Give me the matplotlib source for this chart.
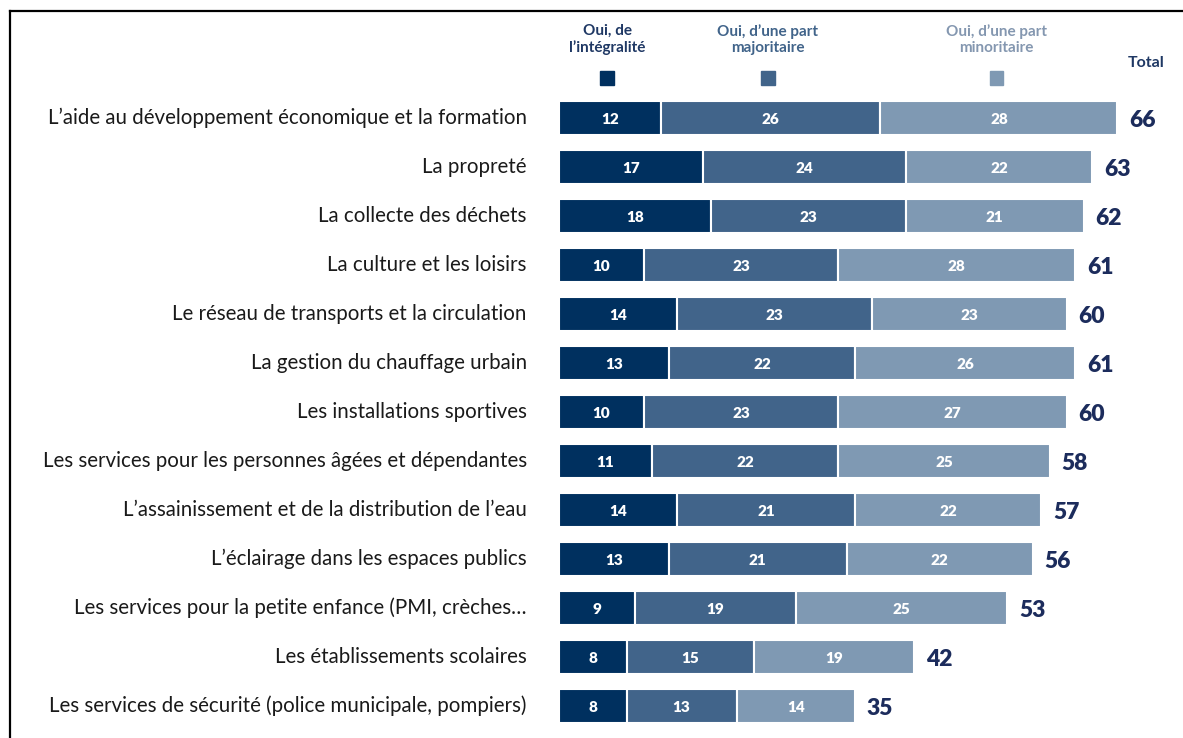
"""Stacked bar chart: délégation des services publics locaux."""
import matplotlib.pyplot as plt
import numpy as np
from matplotlib.lines import Line2D
from matplotlib.patches import Rectangle

plt.rcParams["font.family"] = ["Lato", "DejaVu Sans"]

categories = [
    "L\u2019aide au développement économique et la formation",
    "La propreté",
    "La collecte des déchets",
    "La culture et les loisirs",
    "Le réseau de transports et la circulation",
    "La gestion du chauffage urbain",
    "Les installations sportives",
    "Les services pour les personnes âgées et dépendantes",
    "L\u2019assainissement et de la distribution de l\u2019eau",
    "L\u2019éclairage dans les espaces publics",
    "Les services pour la petite enfance (PMI, crèches\u2026",
    "Les établissements scolaires",
    "Les services de sécurité (police municipale, pompiers)",
]
integralite = [12, 17, 18, 10, 14, 13, 10, 11, 14, 13, 9, 8, 8]
majoritaire = [26, 24, 23, 23, 23, 22, 23, 22, 21, 21, 19, 15, 13]
minoritaire = [28, 22, 21, 28, 23, 26, 27, 25, 22, 22, 25, 19, 14]
totals = [66, 63, 62, 61, 60, 61, 60, 58, 57, 56, 53, 42, 35]

series_labels = ["Oui, de\nl\u2019intégralité",
                 "Oui, d\u2019une part\nmajoritaire",
                 "Oui, d\u2019une part\nminoritaire"]
bar_colors = ["#00305f", "#41648a", "#7f99b3"]
head_colors = ["#1f3864", "#41648a", "#8497b0"]
navy = "#1c2c5c"

W, H = 1183, 738
px_per_unit = 8.46
x0 = 559
fig = plt.figure(figsize=(W / 100, H / 100), dpi=100)
ax = fig.add_axes([x0 / W, 0, 1 - x0 / W, 1])
ax.set_xlim(0, (W - x0) / px_per_unit)
ax.set_ylim((H - 118) / 49, -118 / 49)
ax.axis("off")

y = np.arange(len(categories))
left = np.zeros(len(categories))
for vals, col in zip([integralite, majoritaire, minoritaire], bar_colors):
    vals = np.array(vals)
    ax.barh(y, vals, left=left, height=0.71, color=col,
            edgecolor="white", linewidth=1.5)
    for yi, l, v in zip(y, left, vals):
        ax.text(l + v / 2, yi + 0.03, str(v), ha="center", va="center",
                color="white", fontsize=11, fontweight="heavy")
    left += vals

for yi, t in zip(y, totals):
    ax.text(t + 1.4, yi + 0.05, str(t), ha="left", va="center",
            color=navy, fontsize=16.5, fontweight="heavy")

for yi, cat in zip(y, categories):
    ax.text(-3.8, yi, cat, ha="right", va="center", color="#1a1a1a",
            fontsize=14.8, clip_on=False)

# legend header above the first row's segments
starts = [0, integralite[0], integralite[0] + majoritaire[0]]
widths = [integralite[0], majoritaire[0], minoritaire[0]]
for s, w, lab, bc, hc in zip(starts, widths, series_labels,
                             bar_colors, head_colors):
    cx = s + w / 2 - 0.3
    ax.text(cx, -1.6, lab, ha="center", va="center", color=hc,
            fontsize=11, fontweight="bold", linespacing=1.2)
    ax.add_patch(Rectangle((cx - 0.8, -0.95), 1.6, 0.27, color=bc,
                           clip_on=False))
ax.text(69.4, -1.12, "Total", ha="center", va="center", color=head_colors[0],
        fontsize=11.5, fontweight="bold")

# frame lines (top and left)
fig.add_artist(Line2D([10 / W, 1], [1 - 11 / H, 1 - 11 / H],
                      color="black", lw=1.6, transform=fig.transFigure))
fig.add_artist(Line2D([10 / W, 10 / W], [0, 1 - 11 / H],
                      color="black", lw=1.6, transform=fig.transFigure))

fig.savefig("out.png", dpi=100)
